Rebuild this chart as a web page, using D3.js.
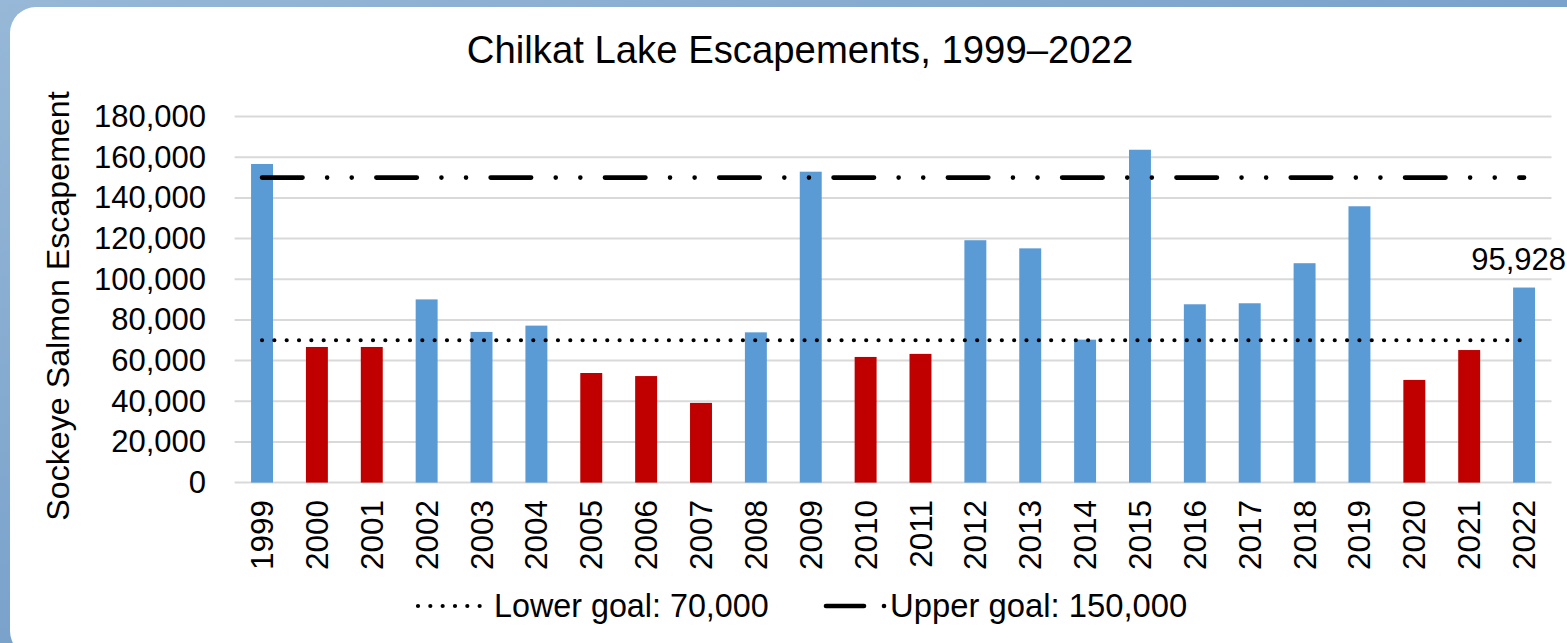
<!DOCTYPE html>
<html>
<head>
<meta charset="utf-8">
<script src="https://cdn.jsdelivr.net/npm/d3@7"></script>
<style>
  html, body { margin: 0; padding: 0; overflow: hidden; }
  body { width: 1567px; height: 643px; }
  text { font-family: "Liberation Sans", Arial, sans-serif; fill: #000; }
</style>
</head>
<body>
<svg id="chart" width="1567" height="643"></svg>
<script>
const years = ["1999","2000","2001","2002","2003","2004","2005","2006","2007","2008","2009","2010",
               "2011","2012","2013","2014","2015","2016","2017","2018","2019","2020","2021","2022"];
const escapement = [156700, 66700, 66700, 90100, 74100, 77200, 53900, 52400, 39200, 73900, 152900, 61800,
                    63300, 119200, 115200, 70300, 163700, 87700, 88200, 107900, 135900, 50500, 65200, 95928];
const yTicks = [0, 20000, 40000, 60000, 80000, 100000, 120000, 140000, 160000, 180000];
const lowerGoal = 70000;
const upperGoal = 150000;
const labelledYear = "2022";
const titleText = "Chilkat Lake Escapements, 1999\u20132022";
const yAxisTitle = "Sockeye Salmon Escapement";
const legendLabels = ["Lower goal: 70,000", "Upper goal: 150,000"];

const svg = d3.select("#chart");
const fmt = d3.format(",");

// background
const defs = svg.append("defs");
const g1 = defs.append("linearGradient").attr("id", "bg").attr("x1", "0").attr("y1", "0").attr("x2", "1").attr("y2", "1");
g1.append("stop").attr("offset", "0%").attr("stop-color", "#97b8d7");
g1.append("stop").attr("offset", "50%").attr("stop-color", "#7aa2cb");
g1.append("stop").attr("offset", "100%").attr("stop-color", "#5e8fc0");
svg.append("rect").attr("width", 1567).attr("height", 643).attr("fill", "url(#bg)");
svg.append("rect").attr("x", 10).attr("y", 7).attr("width", 1600).attr("height", 650)
   .attr("rx", 26).attr("ry", 26).attr("fill", "#ffffff");

const x = d3.scaleBand().domain(years).range([234.6, 1551.5]).paddingInner(0.6).paddingOuter(0.3);
const y = d3.scaleLinear().domain([0, 180000]).range([482.6, 116.6]);
const xc = d => x(d) + x.bandwidth() / 2;

// gridlines
svg.append("g").selectAll("line").data(yTicks).join("line")
  .attr("x1", 234.6).attr("x2", 1551.5)
  .attr("y1", d => y(d)).attr("y2", d => y(d))
  .attr("stroke", "#d9d9d9").attr("stroke-width", 2);

// y axis labels
const yAxis = d3.axisLeft(y).tickValues(yTicks).tickFormat(fmt).tickSize(0).tickPadding(0);
const ya = svg.append("g").attr("transform", "translate(206,0)").call(yAxis);
ya.select(".domain").remove();
ya.selectAll("text").attr("font-size", 31).attr("font-family", "Liberation Sans, Arial, sans-serif").attr("fill", "#000");

// x axis labels
const xAxis = d3.axisBottom(x).tickSize(0).tickPadding(0);
const xa = svg.append("g").attr("transform", "translate(0,500)").call(xAxis);
xa.select(".domain").remove();
xa.selectAll("text").attr("font-size", 31.5).attr("font-family", "Liberation Sans, Arial, sans-serif").attr("fill", "#000")
  .attr("text-anchor", "end").attr("transform", "rotate(-90)").attr("x", 0).attr("y", 0).attr("dy", "0.35em");

// bars
svg.append("g").selectAll("rect").data(years).join("rect")
  .attr("x", d => x(d)).attr("width", x.bandwidth())
  .attr("y", (d, i) => y(escapement[i]))
  .attr("height", (d, i) => y(0) - y(escapement[i]))
  .attr("fill", (d, i) => escapement[i] < lowerGoal ? "#c00000" : "#5b9bd5");

// goal lines
svg.append("line")
  .attr("x1", xc(years[0])).attr("x2", xc(years[years.length - 1]))
  .attr("y1", y(lowerGoal)).attr("y2", y(lowerGoal))
  .attr("stroke", "#000").attr("stroke-width", 4.2).attr("stroke-linecap", "round")
  .attr("stroke-dasharray", "0,12.33");
svg.append("line")
  .attr("x1", xc(years[0])).attr("x2", xc(years[years.length - 1]))
  .attr("y1", y(upperGoal)).attr("y2", y(upperGoal))
  .attr("stroke", "#000").attr("stroke-width", 4.6).attr("stroke-linecap", "round")
  .attr("stroke-dasharray", "40.5,24.6,0,24.6,0,24.6");

// data label
const li = years.indexOf(labelledYear);
svg.append("text").attr("x", 1566).attr("y", y(escapement[li]) - 18)
  .attr("text-anchor", "end").attr("font-size", 31).text(fmt(escapement[li]));

// title
svg.append("text").attr("x", 800).attr("y", 63).attr("text-anchor", "middle")
  .attr("font-size", 38.3).text(titleText);

// y axis title
svg.append("text").attr("transform", "translate(69,306) rotate(-90)").attr("text-anchor", "middle")
  .attr("font-size", 32.2).text(yAxisTitle);

// legend
const ly = 606;
svg.append("line").attr("x1", 418).attr("x2", 486).attr("y1", ly).attr("y2", ly)
  .attr("stroke", "#000").attr("stroke-width", 4.2).attr("stroke-linecap", "round")
  .attr("stroke-dasharray", "0,12.33");
svg.append("text").attr("x", 494).attr("y", ly + 11).attr("font-size", 32.3).text(legendLabels[0]);
svg.append("line").attr("x1", 826).attr("x2", 864).attr("y1", ly).attr("y2", ly)
  .attr("stroke", "#000").attr("stroke-width", 4.6).attr("stroke-linecap", "round");
svg.append("circle").attr("cx", 884).attr("cy", ly).attr("r", 2.3).attr("fill", "#000");
svg.append("text").attr("x", 890).attr("y", ly + 11).attr("font-size", 32.8).text(legendLabels[1]);
</script>
</body>
</html>
